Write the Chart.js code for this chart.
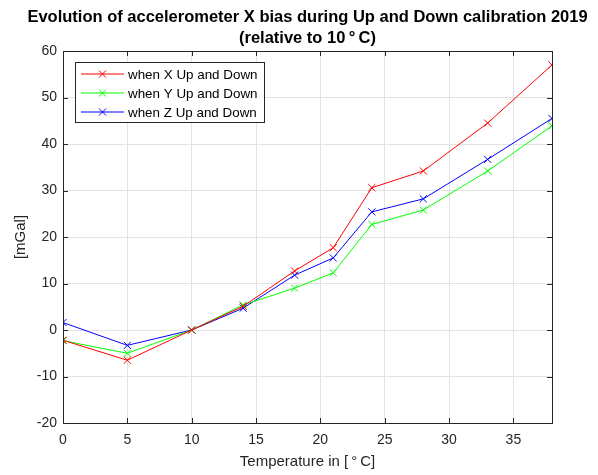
<!DOCTYPE html>
<html>
<head>
<meta charset="utf-8">
<script src="https://cdn.jsdelivr.net/npm/chart.js@4"></script>
<style>
  html, body { margin: 0; padding: 0; background: #fff; }
  #wrap { width: 598px; height: 475px; }
</style>
</head>
<body>
<div id="wrap"><canvas id="biasChart" width="598" height="475"></canvas></div>
<script>
// === DATA ===
const temperatures = [0, 5, 10, 14, 18, 21, 24, 28, 33, 38];
const xUpDown = [-2.2, -6.5, 0, 5.1, 12.7, 17.7, 30.6, 34.2, 44.5, 57.0];
const yUpDown = [-2.3, -5.0, 0, 5.4, 9.0, 12.3, 22.7, 25.8, 34.2, 43.9];
const zUpDown = [1.6, -3.3, 0, 4.7, 11.8, 15.5, 25.4, 28.2, 36.7, 45.5];
const seriesNames = ["when X Up and Down", "when Y Up and Down", "when Z Up and Down"];
const xTicks = [0, 5, 10, 15, 20, 25, 30, 35];
const yTicks = [-20, -10, 0, 10, 20, 30, 40, 50, 60];

const FONT = "'Liberation Sans', Arial, Helvetica, sans-serif";
const AXIS_COLOR = "#262626";

function toPoints(vals) {
  return temperatures.map((t, i) => ({ x: t, y: vals[i] }));
}

// === box, inward ticks, title, legend (MATLAB look) ===
const matlabLook = {
  id: "matlabLook",
  afterDatasetsDraw(chart) {
    const { ctx, chartArea: a, scales } = chart;
    ctx.save();
    ctx.strokeStyle = AXIS_COLOR;
    ctx.lineWidth = 1;
    ctx.strokeRect(Math.round(a.left) + 0.5, Math.round(a.top) + 0.5,
      Math.round(a.right - a.left), Math.round(a.bottom - a.top));
    const tl = 5;
    ctx.beginPath();
    xTicks.forEach(v => {
      const px = Math.round(scales.x.getPixelForValue(v)) + 0.5;
      ctx.moveTo(px, a.bottom); ctx.lineTo(px, a.bottom - tl);
      ctx.moveTo(px, a.top); ctx.lineTo(px, a.top + tl);
    });
    yTicks.forEach(v => {
      const py = Math.round(scales.y.getPixelForValue(v)) + 0.5;
      ctx.moveTo(a.left, py); ctx.lineTo(a.left + tl, py);
      ctx.moveTo(a.right, py); ctx.lineTo(a.right - tl, py);
    });
    ctx.stroke();

    // title
    ctx.fillStyle = "#000";
    ctx.font = "bold 16.5px " + FONT;
    ctx.textAlign = "center";
    ctx.textBaseline = "middle";
    const cx = (a.left + a.right) / 2;
    ctx.fillText("Evolution of accelerometer X bias during Up and Down calibration 2019", cx, 17);
    ctx.fillText("(relative to 10\u2009\u00b0\u2009C)", cx, 38);

    // legend
    const lx = 75.5, ly = 62.5, lw = 189, lh = 60;
    ctx.fillStyle = "#fff";
    ctx.fillRect(lx, ly, lw, lh);
    ctx.strokeStyle = AXIS_COLOR;
    ctx.strokeRect(lx, ly, lw, lh);
    ctx.font = "13.4px " + FONT;
    ctx.textAlign = "left";
    chart.data.datasets.forEach((ds, i) => {
      const y = 74 + i * 19;
      ctx.strokeStyle = ds.borderColor;
      ctx.beginPath();
      ctx.moveTo(81, y); ctx.lineTo(124, y);
      ctx.moveTo(99, y - 3.5); ctx.lineTo(106, y + 3.5);
      ctx.moveTo(106, y - 3.5); ctx.lineTo(99, y + 3.5);
      ctx.stroke();
      ctx.fillStyle = "#000";
      ctx.fillText(ds.label, 128, y + 1);
    });
    ctx.restore();
  }
};

const ctx = document.getElementById("biasChart").getContext("2d");
const colors = ["#ff0000", "#00ff00", "#0000ff"];
const chart = new Chart(ctx, {
  type: "line",
  data: {
    datasets: [xUpDown, yUpDown, zUpDown].map((vals, i) => ({
      label: seriesNames[i],
      data: toPoints(vals),
      borderColor: colors[i],
      backgroundColor: colors[i],
      borderWidth: 1,
      pointStyle: "crossRot",
      pointRadius: 5,
      pointBorderWidth: 1,
      tension: 0
    }))
  },
  options: {
    responsive: false,
    animation: false,
    layout: { padding: { top: 51, right: 46, left: 0, bottom: 0 } },
    plugins: {
      legend: { display: false },
      title: { display: false },
      tooltip: { enabled: false }
    },
    scales: {
      x: {
        type: "linear",
        min: 0,
        max: 38,
        afterBuildTicks: s => { s.ticks = xTicks.map(v => ({ value: v })); },
        afterFit: s => { s.height = 52; },
        grid: { color: "#e3e3e3", drawTicks: false },
        border: { display: false },
        ticks: { color: AXIS_COLOR, font: { family: FONT, size: 14 }, padding: 9, maxRotation: 0 },
        title: { display: true, text: "Temperature in [\u2009\u00b0\u2009C]", color: AXIS_COLOR, font: { family: FONT, size: 15 }, padding: { top: 3 } }
      },
      y: {
        type: "linear",
        min: -20,
        max: 60,
        afterBuildTicks: s => { s.ticks = yTicks.map(v => ({ value: v })); },
        afterFit: s => { s.width = 63; },
        grid: { color: "#e3e3e3", drawTicks: false },
        border: { display: false },
        ticks: { color: AXIS_COLOR, font: { family: FONT, size: 14 }, padding: 6 },
        title: { display: true, text: "[mGal]", color: AXIS_COLOR, font: { family: FONT, size: 15 }, padding: { top: 12, bottom: 0 } }
      }
    }
  },
  plugins: [matlabLook]
});
</script>
</body>
</html>
